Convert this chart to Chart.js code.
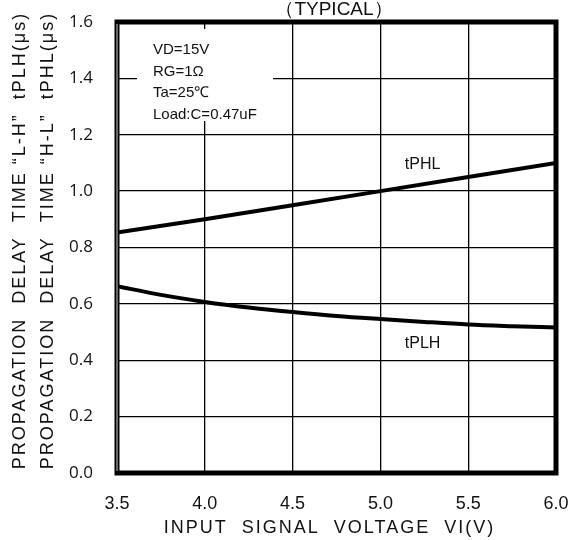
<!DOCTYPE html>
<html>
<head>
<meta charset="utf-8">
<script src="https://cdn.jsdelivr.net/npm/chart.js@4/dist/chart.umd.min.js"></script>
<style>
  body { margin: 0; background: #fff; }
  #wrap { width: 569px; height: 540px; }
</style>
</head>
<body>
<div id="wrap"><canvas id="myChart" width="569" height="540"></canvas></div>
<script>
// valores (tensao VI em V, atraso em us)
var tensaoPHL = [3.5, 4.0, 4.5, 5.0, 5.5, 6.0];
var atrasoPHL = [0.853, 0.90, 0.95, 1.00, 1.05, 1.10];

var tensaoPLH = [3.5, 3.75, 4.0, 4.25, 4.5, 4.75, 5.0, 5.25, 5.5, 5.75, 6.0];
var atrasoPLH = [0.663, 0.632, 0.607, 0.587, 0.571, 0.557, 0.546, 0.536, 0.527, 0.521, 0.516];

var ticksX = [3.5, 4.0, 4.5, 5.0, 5.5, 6.0];
var ticksY = [0.0, 0.2, 0.4, 0.6, 0.8, 1.0, 1.2, 1.4, 1.6];

var condicoes = ['VD=15V', 'RG=1\u03a9', 'Ta=25\u2103', 'Load:C=0.47uF'];

function montaPontos(xs, ys) {
  var pontos = [];
  for (var i = 0; i < xs.length; i++) {
    pontos.push({ x: xs[i], y: ys[i] });
  }
  return pontos;
}

// titulos dos eixos com letras espacadas
var espacamento = {
  id: 'espacamento',
  beforeDraw: function(chart) { chart.ctx.letterSpacing = '2px'; },
  beforeDatasetsDraw: function(chart) { chart.ctx.letterSpacing = '0px'; }
};

// moldura grossa, caixa de condicoes e rotulos das curvas
var extras = {
  id: 'extras',
  afterDraw: function(chart) {
    var ctx = chart.ctx;
    var a = chart.chartArea;
    var sx = chart.scales.x;
    var sy = chart.scales.y;
    ctx.save();
    ctx.letterSpacing = '0px';

    ctx.fillStyle = '#fff';
    ctx.fillRect(137, 29, 136, 92);

    ctx.fillStyle = '#111';
    ctx.font = '15px "Liberation Sans", Arial, sans-serif';
    ctx.textBaseline = 'middle';
    ctx.textAlign = 'left';
    var ys = [50, 72, 93, 115];
    for (var i = 0; i < condicoes.length; i++) {
      ctx.fillText(condicoes[i], 153, ys[i]);
    }

    ctx.font = '16px "Liberation Sans", Arial, sans-serif';
    ctx.textAlign = 'center';
    ctx.fillText('tPHL', sx.getPixelForValue(5.24), sy.getPixelForValue(1.095));
    ctx.fillText('tPLH', sx.getPixelForValue(5.24), sy.getPixelForValue(0.46));

    ctx.font = '19px "Liberation Sans", Arial, sans-serif';
    ctx.textBaseline = 'alphabetic';
    ctx.fillText('\uff08TYPICAL\uff09', 334, 15);

    ctx.strokeStyle = '#000';
    ctx.lineWidth = 5;
    ctx.strokeRect(a.left, a.top, a.right - a.left, a.bottom - a.top);
    ctx.strokeStyle = '#888';
    ctx.lineWidth = 1.5;
    ctx.beginPath();
    ctx.moveTo(a.left, a.top + 2);
    ctx.lineTo(a.left, a.bottom - 2);
    ctx.stroke();
    ctx.restore();
  }
};

function desenhaChart() {
  var ctxChart = document.getElementById('myChart').getContext('2d');
  var chart = new Chart(ctxChart, {
    type: 'line',
    data: {
      datasets: [{
        label: 'tPHL',
        data: montaPontos(tensaoPHL, atrasoPHL),
        borderColor: '#000',
        borderWidth: 4,
        pointRadius: 0,
        tension: 0
      }, {
        label: 'tPLH',
        data: montaPontos(tensaoPLH, atrasoPLH),
        borderColor: '#000',
        borderWidth: 4,
        pointRadius: 0,
        cubicInterpolationMode: 'monotone'
      }]
    },
    options: {
      responsive: false,
      animation: false,
      layout: { padding: { left: 0, top: 22, right: 13, bottom: 0 } },
      plugins: {
        legend: { display: false },
        tooltip: { enabled: false }
      },
      scales: {
        x: {
          type: 'linear',
          min: 3.5,
          max: 6.0,
          afterFit: function(scale) { scale.height = 67; },
          afterBuildTicks: function(scale) {
            scale.ticks = ticksX.map(function(v) { return { value: v }; });
          },
          ticks: {
            z: 1,
            color: '#111',
            padding: 0,
            font: { family: '"Liberation Sans", Arial, sans-serif', size: 18 },
            callback: function(v) { return v.toFixed(1); }
          },
          grid: { color: '#000', lineWidth: 1.3, drawTicks: true, tickLength: 20, tickColor: 'rgba(0,0,0,0)' },
          border: { display: false },
          title: {
            display: true,
            text: 'INPUT  SIGNAL  VOLTAGE  VI(V)  ',
            color: '#111',
            font: { family: '"Liberation Sans", Arial, sans-serif', size: 18 },
            padding: { top: 0, bottom: 1 }
          }
        },
        y: {
          min: 0,
          max: 1.6,
          afterFit: function(scale) { scale.width = 117; },
          afterBuildTicks: function(scale) {
            scale.ticks = ticksY.map(function(v) { return { value: v }; });
          },
          ticks: {
            z: 1,
            color: '#111',
            padding: 0,
            font: { family: '"Open Sans", sans-serif', size: 17 },
            callback: function(v) { return v.toFixed(1); }
          },
          grid: { color: '#000', lineWidth: 1.3, drawTicks: true, tickLength: 24, tickColor: 'rgba(0,0,0,0)' },
          border: { display: false },
          title: {
            display: true,
            text: ['  PROPAGATION  DELAY  TIME \u201cL-H\u201d  tPLH(\u03bcs)',
                   '  PROPAGATION  DELAY  TIME \u201cH-L\u201d  tPHL(\u03bcs)'],
            color: '#111',
            font: { family: '"Liberation Sans", Arial, sans-serif', size: 18, lineHeight: '28px' },
            padding: { top: 6, bottom: 0 }
          }
        }
      }
    },
    plugins: [espacamento, extras]
  });
}

desenhaChart();
</script>
</body>
</html>
